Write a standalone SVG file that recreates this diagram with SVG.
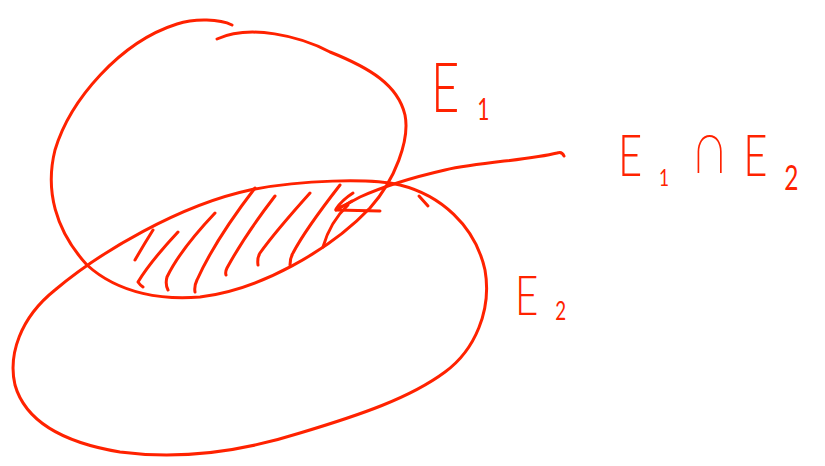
<svg xmlns="http://www.w3.org/2000/svg" width="825" height="466" viewBox="0 0 825 466">
<style>
.s{fill:none;stroke:#ff2200;stroke-width:3;stroke-linecap:round;stroke-linejoin:round}
.t{fill:#ff2200;font-family:Lato,"Liberation Sans","DejaVu Sans",sans-serif;font-weight:300}
.sub{font-weight:400}
</style>
<rect width="825" height="466" fill="#ffffff"/>
<g id="set-e1">
<path class="s" d="M232,25 C220,19 195,18 177,24 C120,42 70,100 55,150 C45,190 55,230 87,265 C120,295 165,300 200,297 C260,290 330,250 370,208 C395,180 410,140 405,115 C398,85 370,68 330,52 C300,36 250,24 217,39"/>
</g>
<g id="set-e2">
<path class="s" d="M250,190 C300,180 370,178 400,185 C440,195 475,225 485,270 C492,310 475,350 445,372 C410,398 360,415 300,433 C240,452 180,460 120,452 C60,442 25,420 15,385 C8,355 20,318 55,290 C100,252 180,205 250,190 Z"/>
<path class="s" d="M428,206 L419,196"/>
</g>
<g id="intersection-hatch">
<path class="s" d="M153,230 Q143,246 135,260"/>
<path class="s" d="M178,232 Q150,262 138,282 Q140,285 143,287"/>
<path class="s" d="M215,213 Q180,250 167,277 Q165,284 168,290"/>
<path class="s" d="M255,188 Q215,240 197,280 Q194,286 195,292"/>
<path class="s" d="M275,196 Q245,235 227,268 Q225,272 226,275"/>
<path class="s" d="M310,193 Q275,232 260,253 Q257,258 258,265"/>
<path class="s" d="M340,185 Q305,230 293,253 Q290,258 290,265"/>
<path class="s" d="M348,205 Q330,222 323,247"/>
</g>
<g id="connectors">
<path class="s" d="M564,156 Q562,151 557,153 C530,160 480,162 445,170 C410,178 380,188 360,197 L336,210"/>
<path class="s" d="M353,193 Q342,200 336,209 Q346,205 352,201 M336,210 L380,211"/>
</g>
<g id="label-e1">
<text class="t" transform="translate(431,112) scale(0.7,1)"><tspan x="0" y="0" font-size="70">E</tspan><tspan class="sub" x="66" y="8" font-size="30">1</tspan></text>
</g>
<g id="label-e1-cap-e2">
<text class="t" transform="translate(618,176) scale(0.72,1)"><tspan x="0" y="0" font-size="58">E</tspan><tspan class="sub" x="57" y="10" font-size="24">1</tspan><tspan x="106" y="-3" font-size="70">∩</tspan><tspan x="174" y="0" font-size="58">E</tspan><tspan class="sub" x="231" y="14" font-size="34">2</tspan></text>
</g>
<g id="label-e2">
<text class="t" transform="translate(515,315) scale(0.72,1)"><tspan x="0" y="0" font-size="56">E</tspan><tspan class="sub" x="56" y="5" font-size="26">2</tspan></text>
</g>
</svg>
